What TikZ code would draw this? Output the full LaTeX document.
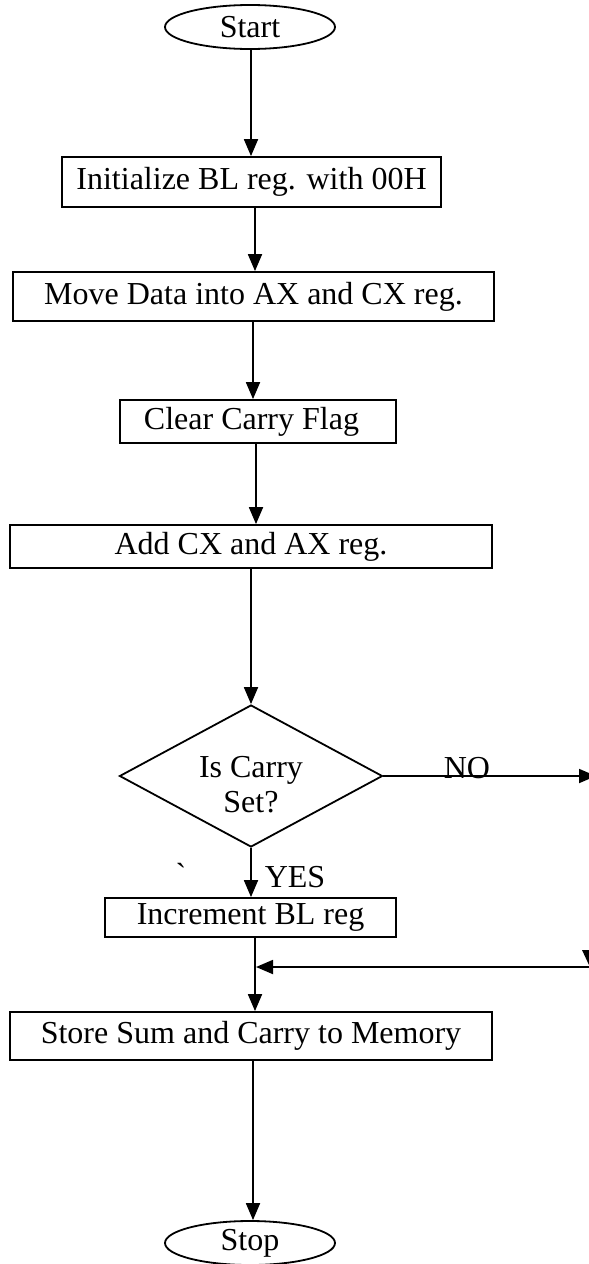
\documentclass[tikz,border=0pt]{standalone}
\usepackage{fontspec}
\setmainfont{Liberation Serif}
\newfontfamily\plainserif{Liberation Serif}
\usetikzlibrary{shapes.geometric,arrows.meta}

\begin{document}
\begin{tikzpicture}[x=1pt,y=-1pt,
  font=\fontsize{32}{35}\selectfont,
  line width=1.8pt,
  arr/.style={-{Triangle[length=17pt,width=14pt]}},
  procbox/.style={draw, rectangle, inner sep=0pt},
  terminal/.style={draw, ellipse, minimum width=170pt, minimum height=44pt, inner sep=0pt},
  decision/.style={draw, diamond, aspect=1.85, minimum width=263pt,
                   minimum height=142pt, inner sep=0pt, align=center},
  lbl/.style={inner sep=0pt, anchor=base},
]
\useasboundingbox (0,0) rectangle (589,1264);

% terminals
\node[terminal] (start) at (250,27) {Start};
\node[terminal] (stop)  at (250,1243) {Stop};

% process steps
\node[procbox, minimum width=379pt, minimum height=50pt] (init)  at (251.5,182)  {Initialize BL reg. with 00H};
\node[procbox, minimum width=481pt, minimum height=49pt] (move)  at (253.5,296.5) {Move Data into AX and CX reg.};
\node[procbox, minimum width=276pt, minimum height=43pt] (clear) at (258,421.5)  {Clear Carry Flag\kern13pt};
\node[procbox, minimum width=482pt, minimum height=43pt] (add)   at (251,546.5)  {Add CX and AX reg.};
\node[decision] (dec) at (251,776) {\rule{0pt}{39pt}Is Carry\\Set?};
\node[procbox, minimum width=291pt, minimum height=39pt] (inc)   at (250.5,917.5) {Increment BL reg};
\node[procbox, minimum width=482pt, minimum height=48pt] (store) at (251,1036)  {Store Sum and Carry to Memory};

% branch labels
\node[lbl] (no)   at (467,778) {NO};
\node[lbl] (yes)  at (295,887) {YES};
\node[inner sep=0pt] (tick) at (181,874) {\plainserif\symbol{96}};

% main flow
\draw[arr] (start.south -| 251,0) -- (init.north -| 251,0);
\draw[arr] (init.south -| 255,0)  -- (move.north -| 255,0);
\draw[arr] (move.south -| 253,0)  -- (clear.north -| 253,0);
\draw[arr] (clear.south -| 256,0) -- (add.north -| 256,0);
\draw[arr] (add.south -| 251,0)   -- (dec.north);
\draw[arr] (dec.south) -- (inc.north -| dec.south);
\draw[arr] (inc.south -| 255,0)   -- (store.north -| 255,0);
\draw[arr] (store.south -| 253,0) -- (stop.north -| 253,0);

% NO branch leaves to the right and returns above the store step
\coordinate (noend) at (596,776);
\draw[arr] (dec.east) -- (noend);
\coordinate (ret) at (592,967);
\coordinate (join) at (256,967);
\draw[arr] (ret) -- (join);
\fill (582,950) -- (596,950) -- (589,965) -- cycle;
\end{tikzpicture}
\end{document}
